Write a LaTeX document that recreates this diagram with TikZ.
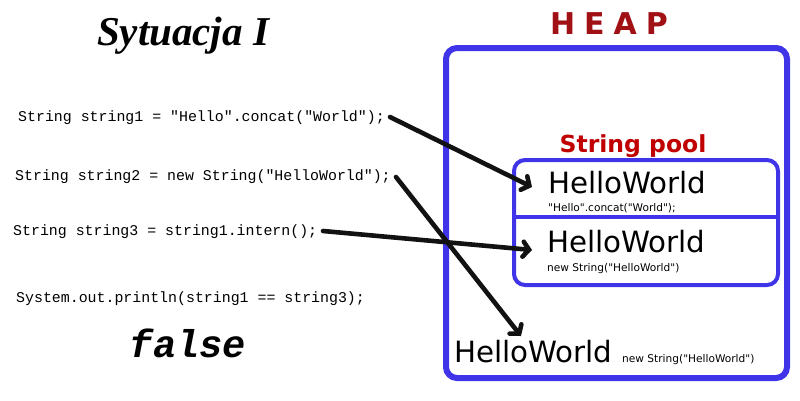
\documentclass[tikz,border=0pt]{standalone}
\usepackage{fontspec}
\setmainfont{DejaVu Sans}[Ligatures=TeXOff]
\newfontfamily\codefont{Liberation Mono}[Ligatures=TeXOff]
\newfontfamily\titlefont{Liberation Serif}
\usetikzlibrary{arrows.meta}
\definecolor{heapblue}{RGB}{64,52,232}
\definecolor{heapred}{RGB}{160,16,20}
\definecolor{poolred}{RGB}{192,0,0}
\tikzset{
  code/.style={anchor=base west, inner sep=0pt, font=\codefont\fontsize{14.9}{16}\selectfont},
  big/.style={anchor=base west, inner sep=0pt, font=\fontsize{29.3}{32}\selectfont},
  small/.style={anchor=base west, inner sep=0pt, font=\fontsize{10.6}{12}\selectfont},
  box/.style={draw=heapblue, rounded corners=11pt},
  ref/.style={draw=black!93, line width=4.6pt, line cap=round,
    -{Straight Barb[length=6pt,width=15pt,line cap=round]}},
}
\begin{document}
\begin{tikzpicture}[x=1pt,y=-1pt]
\useasboundingbox (0,0) rectangle (800,400);
% boxes
\draw[box, line width=6pt] (446,48) rectangle (787,378);
\draw[box, line width=4pt] (514,160) rectangle (778,285);
\draw[heapblue, line width=4pt] (514,217) -- (778,217);
% titles
\node[anchor=base, inner sep=0pt, font=\titlefont\bfseries\itshape\fontsize{41}{44}\selectfont] (title) at (183,45) {Sytuacja I};
\node[anchor=base, inner sep=0pt, text=heapred, font=\bfseries\fontsize{30}{34}\selectfont] (heap) at (609,34) {H\hspace{0.3em}E\hspace{0.3em}A\hspace{0.3em}P};
\node[anchor=base, inner sep=0pt, text=poolred, font=\bfseries\fontsize{23.5}{26}\selectfont] (pool) at (633,152) {String pool};
% code
\node[code] (c1) at (18,121) {String string1 = "Hello".concat("World");};
\node[code] (c2) at (15,180) {String string2 = new String("HelloWorld");};
\node[code] (c3) at (13,235) {String string3 = string1.intern();};
\node[code] (c4) at (16,302) {System.out.println(string1 == string3);};
\node[anchor=base, inner sep=0pt, font=\codefont\bfseries\itshape\fontsize{38.7}{40}\selectfont] (res) at (188,357) {false};
% strings
\node[big] (h1) at (548,193) {HelloWorld};
\node[small] (l1) at (548,211) {"Hello".concat("World");};
\node[big] (h2) at (547,252) {HelloWorld};
\node[small] (l2) at (547,271) {new String("HelloWorld")};
\node[big] (h3) at (454,362) {HelloWorld};
\node[small] (l3) at (622,362) {new String("HelloWorld")};
% arrows
\coordinate (s1) at (390,117);
\coordinate (s2) at (396,177);
\coordinate (s3) at (323,231);
\coordinate (t1) at (532,187);
\coordinate (t2) at (532,250);
\coordinate (t3) at (521,336);
\draw[ref] (s1) -- (t1);
\draw[ref] (s2) -- (t3);
\draw[ref] (s3) -- (t2);
\end{tikzpicture}
\end{document}
